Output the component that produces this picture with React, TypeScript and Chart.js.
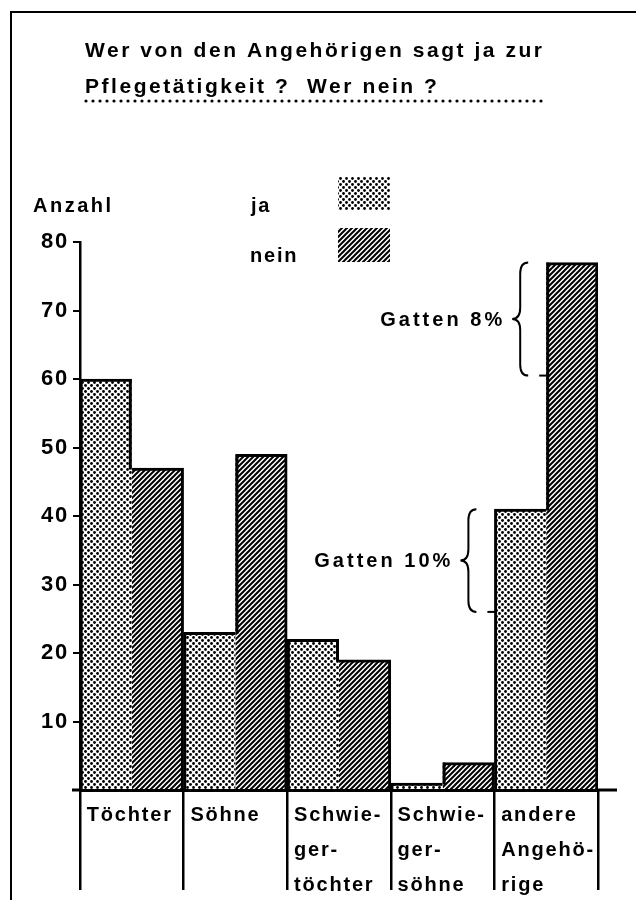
import React, { useEffect, useRef } from 'react';
import { Chart, registerables } from 'chart.js';

Chart.register(...registerables);

// ---------- data ----------
const titleLines = ['Wer von den Angehörigen sagt ja zur', 'Pflegetätigkeit ?  Wer nein ?'];
const yAxisLabel = 'Anzahl';
const seriesNames = ['ja', 'nein'];
const categories = [
  ['Töchter'],
  ['Söhne'],
  ['Schwie-', 'ger-', 'töchter'],
  ['Schwie-', 'ger-', 'söhne'],
  ['andere', 'Angehö-', 'rige'],
];
const jaValues = [60, 23, 22, 1, 41];
const neinValues = [47, 49, 19, 4, 77];
const yMin = 0;
const yMax = 80;
const yStep = 10;
const annotationLabels = ['Gatten 8%', 'Gatten 10%'];
const annotationCategory = [4, 4];
const annotationSeries = [1, 0];
const annotationFrom = [77, 41];
const annotationTo = [60.5, 26];

// ---------- style ----------
const FONT = '"Liberation Sans", Arial, sans-serif';
const TICK_SPACING = 1.8;

function makeDots(ctx: CanvasRenderingContext2D) {
  const s = 6;
  const c = document.createElement('canvas');
  c.width = s; c.height = s;
  const g = c.getContext('2d')!;
  g.fillStyle = '#fff';
  g.fillRect(0, 0, s, s);
  g.fillStyle = '#000';
  for (const [x, y] of [[1.5, 1.5], [4.5, 4.5]]) {
    g.beginPath();
    g.arc(x, y, 1.4, 0, Math.PI * 2);
    g.fill();
  }
  return ctx.createPattern(c, 'repeat')!;
}

function makeHatch(ctx: CanvasRenderingContext2D) {
  const s = 5;
  const c = document.createElement('canvas');
  c.width = s; c.height = s;
  const g = c.getContext('2d')!;
  g.fillStyle = '#fff';
  g.fillRect(0, 0, s, s);
  g.strokeStyle = '#000';
  g.lineWidth = 2;
  g.beginPath();
  g.moveTo(-1, s + 1); g.lineTo(s + 1, -1);
  g.moveTo(-2, 2); g.lineTo(2, -2);
  g.moveTo(s - 2, s + 2); g.lineTo(s + 2, s - 2);
  g.stroke();
  return ctx.createPattern(c, 'repeat')!;
}

function textWidth(c: CanvasRenderingContext2D, t: string) {
  c.letterSpacing = '0px';
  return c.measureText(t).width;
}

function drawSpaced(c: CanvasRenderingContext2D, t: string, x: number, y: number, spacing: number, align: 'left' | 'right' = 'left') {
  const w0 = textWidth(c, t);
  const vis = w0 + spacing * (t.length - 1);
  c.letterSpacing = spacing + 'px';
  c.textAlign = 'left';
  c.fillText(t, align === 'left' ? x : x - vis, y);
  c.letterSpacing = '0px';
}

function fitSpacing(c: CanvasRenderingContext2D, t: string, target: number) {
  return (target - textWidth(c, t)) / (t.length - 1);
}

function drawBrace(c: CanvasRenderingContext2D, x: number, yTop: number, yBot: number, w: number) {
  const xm = x + w * 0.5;
  const ym = (yTop + yBot) / 2;
  const r = w * 0.7;
  c.beginPath();
  c.moveTo(x + w, yTop);
  c.quadraticCurveTo(xm, yTop, xm, yTop + r);
  c.lineTo(xm, ym - r);
  c.quadraticCurveTo(xm, ym, x, ym);
  c.quadraticCurveTo(xm, ym, xm, ym + r);
  c.lineTo(xm, yBot - r);
  c.quadraticCurveTo(xm, yBot, x + w, yBot);
  c.stroke();
}

export default function App() {
  const ref = useRef<HTMLCanvasElement>(null);

  useEffect(() => {
    document.body.style.margin = '0';
    const canvas = ref.current!;
    const ctx = canvas.getContext('2d')!;
    const dots = makeDots(ctx);
    const hatch = makeHatch(ctx);
    const patterns = [dots, hatch];

    const decor = {
      id: 'decor',
      beforeDraw(chart: any) {
        chart.ctx.letterSpacing = TICK_SPACING + 'px';
      },
      afterDatasetsDraw(chart: any) {
        const c: CanvasRenderingContext2D = chart.ctx;
        const m0 = chart.getDatasetMeta(0);
        const m1 = chart.getDatasetMeta(1);
        c.save();
        c.strokeStyle = '#000';
        c.lineWidth = 3;
        m0.data.forEach((b0: any, i: number) => {
          const b1 = m1.data[i];
          const xb = b0.x + b0.width / 2;
          const top = Math.min(b0.y, b1.y);
          const low = Math.max(b0.y, b1.y);
          const x = b0.y < b1.y ? xb - 1.5 : xb + 1.5;
          c.beginPath();
          c.moveTo(x, top);
          c.lineTo(x, low + 1.5);
          c.stroke();
        });
        c.restore();
      },
      afterDraw(chart: any) {
        const c: CanvasRenderingContext2D = chart.ctx;
        c.letterSpacing = '0px';
        const area = chart.chartArea;
        const ys = chart.scales.y;
        c.save();
        c.fillStyle = '#000';
        c.strokeStyle = '#000';
        c.textBaseline = 'alphabetic';

        // frame
        c.lineWidth = 2;
        c.beginPath();
        c.moveTo(10, 12); c.lineTo(636, 12);
        c.moveTo(11, 12); c.lineTo(11, 900);
        c.stroke();

        // title
        c.font = `bold 21px ${FONT}`;
        const tsp = fitSpacing(c, titleLines[0], 457);
        drawSpaced(c, titleLines[0], 85, 57, tsp);
        drawSpaced(c, titleLines[1], 85, 93, tsp);
        for (let x = 86; x <= 542; x += 7) {
          c.beginPath();
          c.arc(x, 101, 1.6, 0, Math.PI * 2);
          c.fill();
        }

        // axis label and legend
        c.font = `bold 20px ${FONT}`;
        drawSpaced(c, yAxisLabel, 33, 212, fitSpacing(c, yAxisLabel, 78));
        drawSpaced(c, seriesNames[0], 251, 212, TICK_SPACING);
        drawSpaced(c, seriesNames[1], 250, 262, TICK_SPACING);
        c.fillStyle = patterns[0];
        c.fillRect(338, 177, 52, 33);
        c.fillStyle = patterns[1];
        c.fillRect(338, 228, 52, 34);
        c.fillStyle = '#000';

        // baseline extensions
        c.lineWidth = 3;
        c.beginPath();
        c.moveTo(72, area.bottom); c.lineTo(area.left, area.bottom);
        c.moveTo(area.right, area.bottom); c.lineTo(area.right + 19, area.bottom);
        c.stroke();

        // annotations
        c.font = `bold 20px ${FONT}`;
        const asp = fitSpacing(c, annotationLabels[0], 122);
        annotationLabels.forEach((label, i) => {
          const meta = chart.getDatasetMeta(annotationSeries[i]);
          const bar = meta.data[annotationCategory[i]];
          const barLeft = bar.x - bar.width / 2;
          const yTop = ys.getPixelForValue(annotationFrom[i]);
          const yBot = ys.getPixelForValue(annotationTo[i]);
          const bw = 16;
          const bx = barLeft - 18 - bw;
          c.lineWidth = 2;
          drawBrace(c, bx, yTop, yBot, bw);
          c.beginPath();
          c.moveTo(barLeft - 7, yBot); c.lineTo(barLeft + 2, yBot);
          c.stroke();
          c.textBaseline = 'middle';
          drawSpaced(c, label, bx - 10, (yTop + yBot) / 2 + 1, asp, 'right');
          c.textBaseline = 'alphabetic';
        });
        c.restore();
      },
    };

    const borderFor = (series: number) => () =>
      series === 0
        ? { top: 3, left: 3, right: 0, bottom: 0 }
        : { top: 3, right: 3, left: 0, bottom: 0 };

    const xFont = { family: FONT, size: 20, weight: 'bold' as const, lineHeight: 35 / 20 };
    const yFont = { family: FONT, size: 22, weight: 'bold' as const };

    const chart = new Chart(canvas, {
      type: 'bar',
      data: {
        labels: categories,
        datasets: [
          {
            label: seriesNames[0],
            data: jaValues,
            backgroundColor: dots,
            borderColor: '#000',
            borderWidth: borderFor(0),
            borderSkipped: 'start',
            categoryPercentage: 1,
            barPercentage: 1,
          },
          {
            label: seriesNames[1],
            data: neinValues,
            backgroundColor: hatch,
            borderColor: '#000',
            borderWidth: borderFor(1),
            borderSkipped: 'start',
            categoryPercentage: 1,
            barPercentage: 1,
          },
        ],
      },
      options: {
        animation: false,
        responsive: false,
        devicePixelRatio: 1,
        events: [],
        layout: { padding: { top: 242, right: 38, bottom: 0, left: 0 } },
        plugins: {
          legend: { display: false },
          title: { display: false },
          tooltip: { enabled: false },
        },
        scales: {
          x: {
            type: 'category',
            offset: true,
            z: 1,
            grid: {
              display: true,
              drawOnChartArea: false,
              drawTicks: true,
              tickLength: 100,
              color: '#000',
              lineWidth: 2.5,
              offset: true,
            },
            border: { display: true, color: '#000', width: 3 },
            ticks: {
              autoSkip: false,
              maxRotation: 0,
              minRotation: 0,
              align: 'start',
              labelOffset: -45,
              padding: -92,
              color: '#000',
              font: xFont,
            },
            afterFit: (s: any) => { s.height = 114; },
          },
          y: {
            min: yMin,
            max: yMax,
            z: 1,
            ticks: {
              stepSize: yStep,
              color: '#000',
              padding: 4,
              font: yFont,
              callback: (v: any) => (v === 0 ? '' : String(v)),
            },
            grid: {
              drawOnChartArea: false,
              drawTicks: true,
              tickLength: 7,
              color: '#000',
              lineWidth: 2,
            },
            border: { display: true, color: '#000', width: 2.5 },
            afterFit: (s: any) => { s.width = 80; },
          },
        },
      },
      plugins: [decor],
    } as any);

    return () => chart.destroy();
  }, []);

  return (
    <div style={{ width: 636, height: 904 }}>
      <canvas ref={ref} width={636} height={904} style={{ display: 'block', width: 636, height: 904 }} />
    </div>
  );
}
